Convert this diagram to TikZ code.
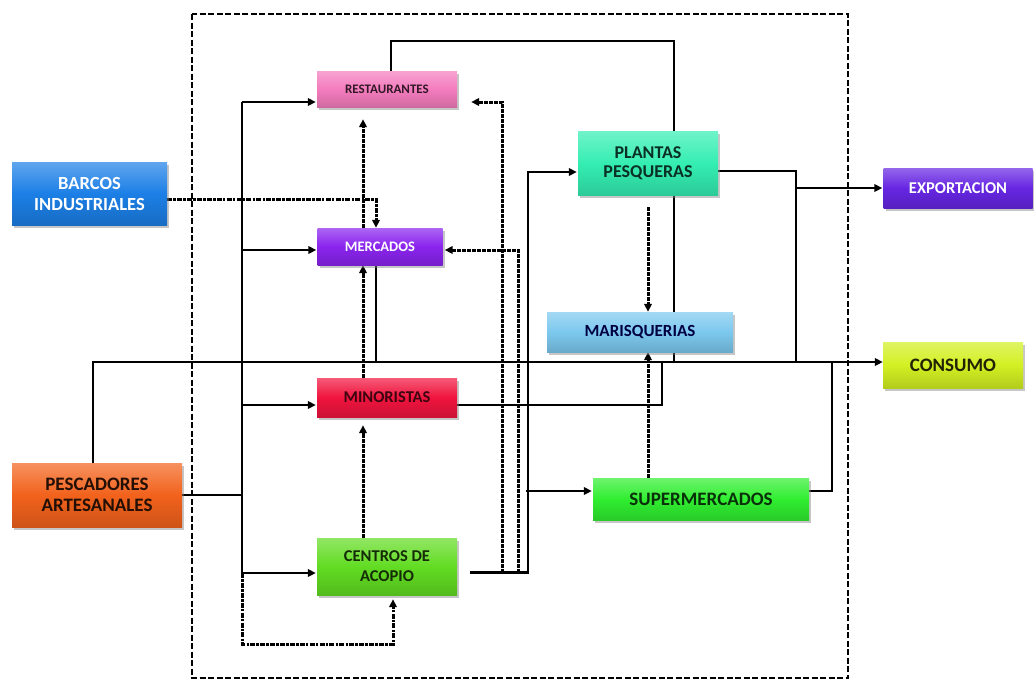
\documentclass[tikz,border=0pt]{standalone}
\usepackage{fontspec}
\setmainfont{Carlito}
\usetikzlibrary{arrows.meta,shadows,backgrounds}

\definecolor{barcosc}{HTML}{1C7FE6}
\definecolor{pescac}{HTML}{F2621C}
\definecolor{restc}{HTML}{F47CBE}
\definecolor{mercc}{HTML}{8A24EE}
\definecolor{minoc}{HTML}{F0143E}
\definecolor{centroc}{HTML}{62DC22}
\definecolor{plantac}{HTML}{34EEB2}
\definecolor{marisc}{HTML}{7CC8EE}
\definecolor{superc}{HTML}{30EE30}
\definecolor{exportc}{HTML}{6626E2}
\definecolor{consumoc}{HTML}{D2F022}

\newcommand\boxfont[2]{\fontsize{#1}{#2}\selectfont\bfseries}

\begin{document}
\begin{tikzpicture}[x=1pt,y=-1pt,>={Triangle[length=8pt,width=7.5pt]}]
    \tikzstyle{box}=[inner sep=0pt,align=center,drop shadow={shadow xshift=2pt,shadow yshift=-2.5pt,opacity=0.45}]
    \tikzstyle{paint}=[top color=#1!70!white,bottom color=#1!85!black,middle color=#1]
    \tikzstyle{flow}=[line width=2.6pt]
    \tikzstyle{dotted flow}=[line width=3pt,dash pattern=on 3.5pt off 1.5pt]
    \tikzstyle{mixed flow}=[line width=3pt,dash pattern=on 5pt off 1.2pt on 2.5pt off 1.2pt]
    \tikzstyle{frame}=[line width=2.2pt,dash pattern=on 6pt off 2.5pt]
    \useasboundingbox (0,0) rectangle (1034,681);

    \draw[frame] (192,14) rectangle (848,678);

    % suppliers on the left
    \node[box,paint=barcosc,text=white,minimum width=155,minimum height=63,font=\boxfont{18.5}{21}] (barcos) at (89.5,193.5) {BARCOS\\INDUSTRIALES};
    \node[box,paint=pescac,text=black!85!pescac,minimum width=170,minimum height=64,font=\boxfont{19}{21}] (pescadores) at (97,495) {PESCADORES\\ARTESANALES};

    % boxes inside the frame
    \node[box,paint=restc,text=black!80!restc,minimum width=140,minimum height=36,font=\boxfont{13}{14}] (rest) at (387,89) {RESTAURANTES};
    \node[box,paint=mercc,text=white,minimum width=125,minimum height=37,font=\boxfont{14.5}{15}] (merc) at (380,246.5) {MERCADOS};
    \node[box,paint=minoc,text=black!75!minoc,minimum width=140,minimum height=39,font=\boxfont{16.5}{17}] (mino) at (387,397.5) {MINORISTAS};
    \node[box,paint=centroc,text=black!80!centroc,minimum width=140,minimum height=57,font=\boxfont{16.5}{20}] (centros) at (387,566.5) {CENTROS DE\\ACOPIO};
    \node[box,paint=plantac,text=black!80!plantac,minimum width=140,minimum height=64,font=\boxfont{18}{19}] (plantas) at (648,163) {PLANTAS\\PESQUERAS};
    \node[box,paint=marisc,text=black!75!blue,minimum width=186,minimum height=40,font=\boxfont{17}{18}] (maris) at (640,332) {MARISQUERIAS};
    \node[box,paint=superc,text=black!80!superc,minimum width=216,minimum height=42,font=\boxfont{19}{20}] (super) at (701,499) {SUPERMERCADOS};

    % destinations on the right
    \node[box,paint=exportc,text=white,minimum width=149,minimum height=40,font=\boxfont{16.5}{17}] (export) at (958,188) {EXPORTACION};
    \node[box,paint=consumoc,text=black!85!consumoc,minimum width=140,minimum height=46,font=\boxfont{19}{20}] (consumo) at (953,365) {CONSUMO};

    \coordinate (trunk) at (0,362);
    \coordinate (busN) at (242,102);
    \coordinate (busS) at (242,573);
    \coordinate (xM) at (363,0);

    \begin{scope}[on background layer]
    \begin{scope}[flow]
    % main line to consumption
    \draw[->] ([xshift=-4pt]pescadores.north) |- (consumo.west |- trunk);
    % left bus from the artisanal fishers
    \draw (pescadores.east) -- (pescadores.east -| busN);
    \draw (busN) -- (busS);
    \draw[->,shorten >=1pt] (busN) -- (rest.west |- busN);
    \draw[->,shorten >=1pt] (busN |- 0,250) -- (merc.west |- 0,250);
    \draw[->,shorten >=1pt] (busN |- 0,405) -- (mino.west |- 0,405);
    \draw[->,shorten >=1pt] (busS) -- (centros.west |- busS);
    \draw[mixed flow,->,shorten >=4pt] (busS) -- (242,644) -| ([xshift=6pt]centros.south);
    % industrial fleet
    \draw[mixed flow,->] ([yshift=-5.5pt]barcos.east) -| ([xshift=-4pt]merc.north);
    % middle column
    \draw[dotted flow,->,shorten >=8pt] (centros.north -| xM) -- (mino.south -| xM);
    \draw[dotted flow,->] (mino.north -| xM) -- (merc.south -| xM);
    \draw[dotted flow,->,shorten >=12pt] (merc.north -| xM) -- (rest.south -| xM);
    \draw ([xshift=-4pt]merc.south) -- ([xshift=-4pt]merc.south |- trunk);
    % collection centres
    \draw[->,shorten <=13pt,shorten >=1pt] ([yshift=-6pt]centros.east) -- (528,572.5) |- ([yshift=-9pt]plantas.west);
    \draw[->,shorten >=1pt] (526,491) -- ([yshift=8pt]super.west);
    \draw[dotted flow,->,shorten >=14pt] (502,572.5) |- (rest.east |- busN);
    \draw[dotted flow,->,shorten >=2pt] (518,572.5) |- (merc.east |- 0,250);
    % retailers and restaurants into the main line
    \draw ([yshift=-7.5pt]mino.east) -| (662,362);
    \draw ([xshift=4pt]rest.north) |- (674,41) -- (674,362);
    % plants
    \draw[dotted flow,->,shorten <=12pt] (plantas.south) -- (plantas.south |- maris.north);
    \draw[dotted flow,->] (super.north -| plantas.south) -- (maris.south -| plantas.south);
    \draw ([yshift=-8pt]plantas.east) -| (796,362);
    \draw[->,shorten >=1pt] (796,188) -- (export.west);
    \draw ([yshift=8pt]super.east) -| (832,362);
    \end{scope}
    \end{scope}
\end{tikzpicture}
\end{document}
